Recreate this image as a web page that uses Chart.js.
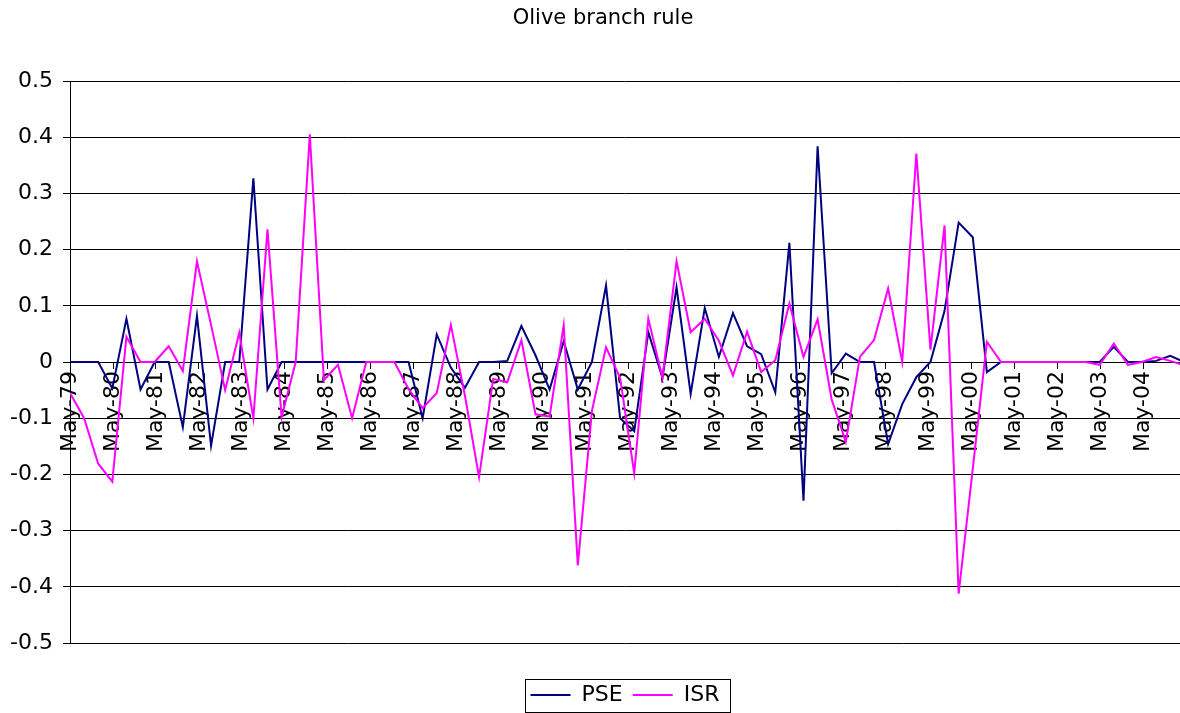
<!DOCTYPE html>
<html lang="en">
<head>
    <meta charset="UTF-8">
    <title>Olive branch rule</title>
    <script src="https://cdn.jsdelivr.net/npm/chart.js"></script>
    <style>
        body {
            margin: 0;
            padding: 0;
            background: #fff;
            overflow: hidden;
        }
        .wrap {
            position: relative;
            width: 1180px;
            height: 713px;
        }
        .title {
            position: absolute;
            left: 0;
            top: 5px;
            width: 1206px;
            text-align: center;
            font-family: 'DejaVu Sans', Verdana, sans-serif;
            font-size: 21px;
            line-height: 24px;
            color: #000;
        }
    </style>
</head>
<body>
    <div class="wrap">
        <canvas id="chart" width="1180" height="713"></canvas>
        <div class="title">Olive branch rule</div>
    </div>

    <script>
        // one observation every 120 days, starting May 1979
        const startYear = 1979;
        const stepDays = 120;

        const tickLabels = ['May-79', 'May-80', 'May-81', 'May-82', 'May-83', 'May-84', 'May-85',
            'May-86', 'May-87', 'May-88', 'May-89', 'May-90', 'May-91', 'May-92', 'May-93',
            'May-94', 'May-95', 'May-96', 'May-97', 'May-98', 'May-99', 'May-00', 'May-01',
            'May-02', 'May-03', 'May-04'];

        const pse = [0, 0, 0, -0.047, 0.077, -0.049, 0, 0, -0.116, 0.082,
            -0.149, 0, 0, 0.327, -0.049, 0, 0, 0, 0, 0,
            0, 0, 0, 0, 0, -0.10, 0.049, -0.01, -0.046, 0,
            0, 0.002, 0.064, 0.012, -0.049, 0.037, -0.049, 0, 0.136, -0.10,
            -0.123, 0.053, -0.028, 0.133, -0.057, 0.096, 0.009, 0.087, 0.028, 0.014,
            -0.054, 0.212, -0.247, 0.384, -0.02, 0.015, 0, 0, -0.146, -0.075,
            -0.027, 0, 0.091, 0.248, 0.222, -0.018, 0, 0, 0, 0,
            0, 0, 0, 0, 0.027, 0, 0, 0.002, 0.011, 0];

        const isr = [-0.055, -0.10, -0.181, -0.213, 0.045, 0, 0, 0.028, -0.016, 0.179,
            0.066, -0.05, 0.052, -0.10, 0.236, -0.098, 0, 0.405, -0.032, -0.005,
            -0.10, 0, 0, 0, -0.048, -0.082, -0.055, 0.066, -0.06, -0.205,
            -0.03, -0.036, 0.039, -0.093, -0.097, 0.065, -0.362, -0.087, 0.026, -0.028,
            -0.198, 0.077, -0.028, 0.179, 0.053, 0.077, 0.038, -0.024, 0.054, -0.018,
            0.003, 0.104, 0.009, 0.076, -0.067, -0.142, 0.009, 0.039, 0.131, 0,
            0.371, 0.022, 0.243, -0.412, -0.19, 0.036, 0, 0, 0, 0,
            0, 0, 0, -0.005, 0.033, -0.005, 0, 0.009, 0.002, -0.006];

        const dayMs = 86400000;
        const start = Date.UTC(startYear, 4, 1);
        const tickDays = tickLabels.map((_, i) => (Date.UTC(startYear + i, 4, 1) - start) / dayMs);
        const obsDays = pse.map((_, i) => i * stepDays);

        Chart.defaults.font.family = "'DejaVu Sans', Verdana, sans-serif";
        Chart.defaults.color = '#000';

        // Excel style frame around the legend
        const legendFrame = {
            id: 'legendFrame',
            afterDraw(chart) {
                const boxes = chart.legend.legendHitBoxes;
                if (!boxes || !boxes.length) return;
                const first = boxes[0];
                const last = boxes[boxes.length - 1];
                const mid = first.top + first.height / 2;
                const c = chart.ctx;
                c.save();
                c.strokeStyle = '#000';
                c.lineWidth = 1;
                c.strokeRect(Math.round(first.left - 6) + 0.5, Math.round(mid - 16) + 0.5,
                    Math.round(last.left + last.width + 16 - first.left), 33);
                c.restore();
            }
        };

        new Chart(document.getElementById('chart'), {
            type: 'line',
            data: {
                datasets: [{
                    label: 'PSE',
                    data: obsDays.map((d, i) => ({x: d, y: pse[i]})),
                    borderColor: '#000080',
                    backgroundColor: '#000080',
                    borderWidth: 2,
                    pointRadius: 0,
                    tension: 0,
                    order: 1
                }, {
                    label: 'ISR',
                    data: obsDays.map((d, i) => ({x: d, y: isr[i]})),
                    borderColor: '#ff00ff',
                    backgroundColor: '#ff00ff',
                    borderWidth: 2,
                    pointRadius: 0,
                    tension: 0,
                    order: 0
                }]
            },
            options: {
                responsive: false,
                animation: false,
                layout: {
                    padding: {top: 81, right: 0, bottom: -3, left: 0}
                },
                plugins: {
                    title: {display: false},
                    tooltip: {enabled: false},
                    legend: {
                        position: 'bottom',
                        fullSize: false,
                        labels: {
                            font: {size: 22},
                            usePointStyle: true,
                            pointStyle: 'line',
                            pointStyleWidth: 40,
                            padding: 10,
                            sort: (a, b) => a.datasetIndex - b.datasetIndex
                        }
                    }
                },
                scales: {
                    x: {
                        type: 'linear',
                        position: {y: 0},
                        min: 0,
                        max: 9443,
                        afterBuildTicks: (scale) => {
                            scale.ticks = tickDays.map(v => ({value: v}));
                        },
                        grid: {
                            drawOnChartArea: false,
                            drawTicks: true,
                            tickLength: 6,
                            color: '#000'
                        },
                        border: {display: true, color: '#000', width: 1},
                        ticks: {
                            autoSkip: false,
                            maxRotation: 90,
                            minRotation: 90,
                            padding: 3,
                            font: {size: 22},
                            callback: (value, index) => tickLabels[index]
                        }
                    },
                    // empty strip that keeps the space between plot and legend
                    gap: {
                        type: 'linear',
                        axis: 'x',
                        position: 'bottom',
                        grid: {display: false},
                        border: {display: false},
                        ticks: {display: false},
                        afterFit: (scale) => {
                            scale.height = 31;
                        }
                    },
                    y: {
                        min: -0.5,
                        max: 0.5,
                        afterFit: (scale) => {
                            scale.width = 70;
                        },
                        grid: {
                            color: '#000',
                            lineWidth: 1,
                            drawTicks: true,
                            tickLength: 7
                        },
                        border: {display: true, color: '#000', width: 1},
                        ticks: {
                            stepSize: 0.1,
                            padding: 10,
                            font: {size: 22}
                        }
                    }
                }
            },
            plugins: [legendFrame]
        });
    </script>
</body>
</html>
